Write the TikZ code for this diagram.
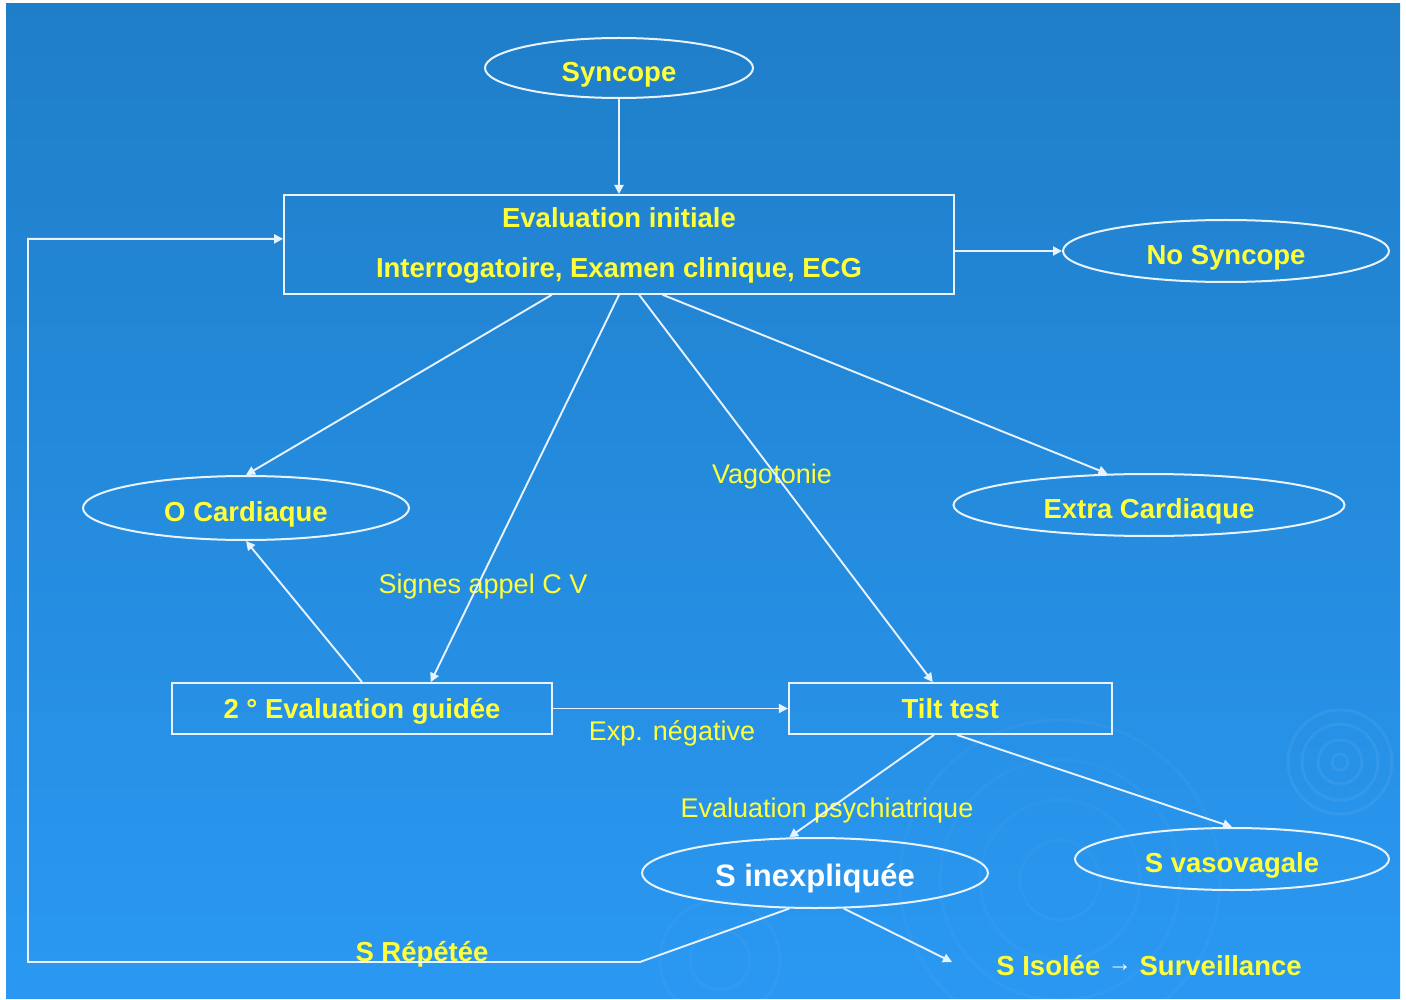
\documentclass[tikz,border=0pt]{standalone}
\usepackage{fontspec}
\setmainfont{Liberation Sans}
\usetikzlibrary{shapes.geometric, arrows.meta, positioning, calc}

\definecolor{bgtop}{HTML}{1F7EC8}
\definecolor{bgbot}{HTML}{2A98F2}
\definecolor{txtyel}{HTML}{FFFF3A}
\definecolor{edgewhite}{HTML}{E8F3FF}

\begin{document}
\begin{tikzpicture}[x=1pt, y=-1pt,
    oval/.style={ellipse, draw=edgewhite, line width=2pt, inner sep=0pt, text=txtyel, font=\fontsize{27.5}{31}\selectfont\bfseries, text height=32pt, text depth=5.3pt},
    boxbase/.style={rectangle, draw=edgewhite, line width=1.8pt, inner sep=0pt, text=txtyel, align=center, font=\fontsize{27.5}{31}\selectfont\bfseries},
    box/.style={boxbase, text height=25pt, text depth=5.3pt},
    lbl/.style={inner sep=0pt, text=txtyel, font=\fontsize{27}{31}\selectfont, text height=25pt, text depth=5.3pt},
    arr/.style={-{Triangle[width=9pt, length=9pt]}, line width=1.9pt, draw=edgewhite},
    ripple/.style={draw=white, opacity=0.03, line width=3pt}
]
\useasboundingbox (0,0) rectangle (1406,1000);
\fill[white] (0,0) rectangle (1406,1000);
\shade[top color=bgtop, bottom color=bgbot] (6,4) rectangle (1400,998);

% faint ripples in the background
\foreach \r in {8,22,38,52} {
    \draw[ripple, opacity=0.06] (1340,762) circle[radius=\r];
}
\foreach \r in {40,80,120,160} {
    \draw[ripple] (1060,880) circle[radius=\r];
}
\foreach \r in {30,60} {
    \draw[ripple] (720,960) circle[radius=\r];
}

\node[oval, minimum width=268, minimum height=60] (syncope) at (619,68) {Syncope};
\node[boxbase, minimum width=670, minimum height=99, below=95pt of syncope] (evalinit) {\rule{0pt}{22pt}Evaluation initiale\\[19pt]Interrogatoire, Examen clinique, ECG};
\node[oval, minimum width=326, minimum height=62] (nosync) at (1226,251) {No Syncope};
\node[oval, minimum width=326, minimum height=64] (ocard) at (246,508) {O Cardiaque};
\node[oval, minimum width=391, minimum height=62] (extra) at (1149,505) {Extra Cardiaque};
\node[box, minimum width=380, minimum height=51] (guided) at (362,708.5) {2 ° Evaluation guidée};
\node[box, minimum width=323, minimum height=51, right=235pt of guided] (tilt) {Tilt test};
\node[oval, minimum width=346, minimum height=70, text=white, font=\fontsize{31}{35}\selectfont\bfseries] (sinexp) at (815,873) {S inexpliquée};
\node[oval, minimum width=314, minimum height=62] (svaso) at (1232,859) {S vasovagale};
\node[lbl, font=\fontsize{27.5}{31}\selectfont\bfseries] (surv) at (1149,966) {S Isolée \textcolor{white}{\raisebox{4pt}{\fontsize{24}{28}\selectfont →}} Surveillance};

\node[lbl] (vago) at (772,474) {Vagotonie};
\node[lbl] (signes) at (483,584) {Signes appel C V};
\node[lbl] (expneg) at (672,731) {Exp. négative};
\node[lbl] (psy) at (827,808) {Evaluation psychiatrique};
\node[lbl, font=\fontsize{27.5}{31}\selectfont\bfseries] (repetee) at (422,952) {S Répétée};

\coordinate (loopin) at ($(evalinit.north west)!0.445!(evalinit.south west)$);
\coordinate (repcorner) at (640,962);
\coordinate (leftbottom) at (28,962);
\coordinate (lefttop) at (leftbottom |- loopin);
\coordinate (isoend) at (952,962);

\draw[arr] (syncope) -- (evalinit);
\draw[arr] (evalinit.east |- nosync.west) -- (nosync.west);
\draw[arr] ($(evalinit.south west)!0.40!(evalinit.south east)$) -- (ocard.north);
\draw[arr] ($(evalinit.south west)!0.50!(evalinit.south east)$) -- ($(guided.north west)!0.68!(guided.north east)$);
\draw[arr] ($(evalinit.south west)!0.53!(evalinit.south east)$) -- ($(tilt.north west)!0.446!(tilt.north east)$);
\draw[arr] ($(evalinit.south west)!0.565!(evalinit.south east)$) -- (extra.143);
\draw[arr] (guided.north) -- (ocard.south);
\draw[arr] (guided.east) -- (tilt.west);
\draw[arr] ($(tilt.south west)!0.45!(tilt.south east)$) -- (sinexp.126);
\draw[arr] ($(tilt.south west)!0.52!(tilt.south east)$) -- (svaso.north);
\draw[arr] (sinexp.234) -- (repcorner) -- (leftbottom) -- (lefttop) -- (loopin);
\draw[arr] (sinexp.309) -- (isoend);
\end{tikzpicture}
\end{document}
